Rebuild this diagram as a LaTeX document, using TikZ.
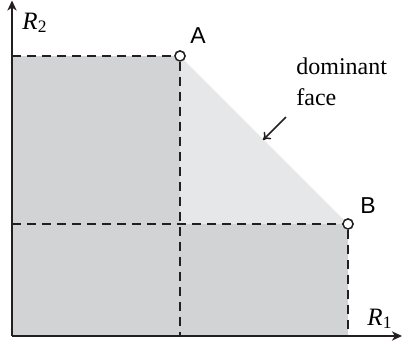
\documentclass[tikz,border=0pt]{standalone}
\usepackage{fontspec}
\setmainfont{Liberation Serif}
\newfontfamily\labelfont{Liberation Sans}
\usetikzlibrary{arrows.meta,positioning}

\definecolor{regiongray}{HTML}{D1D3D4}
\definecolor{facegray}{HTML}{E6E7E8}
\definecolor{inkblack}{HTML}{231F20}

\begin{document}
\begin{tikzpicture}[
    x=0.5pt, y=-0.5pt,
    axis/.style={-{Stealth[length=5pt,width=4.6pt,inset=1.5pt]}, line width=1pt, draw=inkblack},
    guide/.style={dashed, dash pattern=on 4.5pt off 3pt, line width=1pt, draw=inkblack},
    point/.style={circle, draw=inkblack, fill=white, line width=0.7pt,
                  minimum size=5pt, inner sep=0pt},
    ptlabel/.style={font=\labelfont\fontsize{11.5}{13}\selectfont, inner sep=0pt},
    axlabel/.style={font=\fontsize{12.5}{14}\selectfont, inner sep=0pt},
    arrow/.style={-{To[length=3.5pt,width=5pt]}, line width=0.75pt, draw=inkblack}
  ]
    \useasboundingbox (0,0) rectangle (403,348);
    % axes corners and end points
    \coordinate (O) at (12,336);
    \coordinate (xend) at (402,336);
    \coordinate (yend) at (12,0.5);
    \node[point] (A) at (180,56) {};
    \node[point] (B) at (348,224) {};
    % shaded regions
    \fill[regiongray] (O) rectangle (A.center);
    \fill[regiongray] (O) rectangle (B.center);
    \fill[facegray] (A.center) -- (B.center) -- (A.center |- B.center) -- cycle;
    % dashed guides
    \draw[guide] (A.center -| O) -- (A);
    \draw[guide] (A) -- (A.center |- O);
    \draw[guide] (B.center -| O) -- (B);
    \draw[guide] (B) -- (B.center |- O);
    \draw[axis] (O) -- (xend);
    \draw[axis] (O) -- (yend);
    \node[point] at (A.center) {};
    \node[point] at (B.center) {};
    % labels
    \node[ptlabel, above right=4pt and 3pt of A] (Alab) {A};
    \node[ptlabel, above right=3pt and 4pt of B] (Blab) {B};
    \node[axlabel] (R2) at (35,23) {\textit{R}\textsubscript{2}};
    \node[axlabel] (R1) at (380,319) {\textit{R}\textsubscript{1}};
    \node[align=left, inner sep=0pt, font=\fontsize{12}{15.5}\selectfont,
          anchor=north west] (face) at (296,57) {dominant\\face};
    \coordinate (tail) at (286,117);
    \coordinate (tip) at (263,140);
    \draw[arrow] (tail) -- (tip);
  \end{tikzpicture}
\end{document}
